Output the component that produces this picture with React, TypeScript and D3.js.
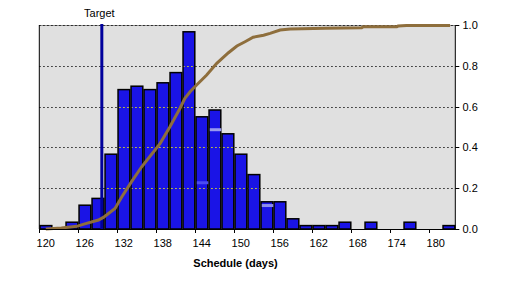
import React from 'react';
import * as d3 from 'd3';

// ---- data ----
const bins = [120, 122, 124, 126, 128, 130, 132, 134, 136, 138, 140, 142, 144, 146, 148, 150,
  152, 154, 156, 158, 160, 162, 164, 166, 168, 170, 172, 174, 176, 178, 180, 182];
const counts = [1, 0, 2, 7, 9, 22, 41, 42, 41, 43, 46, 58, 33, 35, 28, 22,
  16, 8, 8, 3, 1, 1, 1, 2, 0, 2, 0, 0, 2, 0, 0, 1];
const ghostBins = [144, 146, 154];
const ghostCounts = [13.6, 29.2, 6.9];
const cdfDays = [120, 122.4, 124.75, 126.0, 128.1, 128.85, 129.4, 130.65, 131.7, 133.2, 134.75,
  136.8, 137.6, 139.1, 140.65, 141.4, 142.2, 143.2, 144.75, 146.3, 148.1, 149.4, 150.65, 151.9,
  153.5, 154.5, 156.05, 157.6, 163.0, 168.6, 168.85, 174.0, 174.2, 175.5, 182.2];
const cdfProb = [0.0, 0.005, 0.013, 0.025, 0.044, 0.057, 0.07, 0.101, 0.158, 0.232, 0.305,
  0.387, 0.42, 0.501, 0.592, 0.641, 0.673, 0.706, 0.755, 0.812, 0.864, 0.897, 0.918, 0.94,
  0.95, 0.959, 0.975, 0.98, 0.984, 0.987, 0.992, 0.992, 0.995, 0.997, 0.997];
const targetDay = 128.85;
const targetLabel = 'Target';
const xTickLabels = ['120', '126', '132', '138', '144', '150', '156', '162', '168', '174', '180'];
const yTicks = [0, 0.2, 0.4, 0.6, 0.8, 1.0];
const xTitle = 'Schedule (days)';

// ---- layout / style ----
const W = 521, H = 293;
const L = 39.3, R = 455.3, T = 25, B = 229;
const FONT = '"Liberation Sans", Arial, sans-serif';
const GHOST_COLORS = ['#4C4CF0', '#9A9AEE', '#8C8CEC'];

export default function App() {
  const x = d3.scaleBand<number>().domain(bins).range([L, R]).padding(0);
  const bw = x.bandwidth();
  const xd = d3.scaleLinear().domain([119, 183]).range([L, R]);
  const yR = d3.scaleLinear().domain([0, 1]).range([B, T]);
  const yC = d3.scaleLinear().domain([0, 60]).range([B, T]);
  const fmt = d3.format('.1f');

  const line = d3.line<number>()
    .x((_, i) => xd(cdfDays[i]))
    .y((_, i) => yR(cdfProb[i]));
  const linePath = line(cdfProb) || '';

  const barData = bins.map((b, i) => ({ b, c: counts[i] })).filter(d => d.c > 0);
  const tickBoundaries = bins.filter((_, i) => i % 3 === 0);

  return (
    <svg width={W} height={H} style={{ position: 'absolute', left: 0, top: 0, background: '#fff' }}
      fontFamily={FONT}>
      <defs>
        <clipPath id="barsClip">
          {barData.map(d => (
            <rect key={d.b} x={(x(d.b) as number) + 1.5} width={bw - 2.5}
              y={yC(d.c) + 1} height={B - yC(d.c) - 1} />
          ))}
        </clipPath>
      </defs>
      {/* plot background */}
      <rect x={L} y={T} width={R - L} height={B - T} fill="#E0E0E0" />
      {/* top border (grey) */}
      <line x1={L} x2={R} y1={T + 0.5} y2={T + 0.5} stroke="#8C8C8C" strokeWidth={1} />
      {/* gridlines */}
      {yTicks.filter(v => v > 0).map(v => (
        <line key={v} x1={L} x2={R} y1={Math.round(yR(v)) + 0.5} y2={Math.round(yR(v)) + 0.5}
          stroke="#000" strokeWidth={1} strokeDasharray="1.3,2.7" />
      ))}
      {/* bars */}
      {barData.map(d => (
        <rect key={d.b} x={(x(d.b) as number) + 0.75} width={bw - 1.25}
          y={yC(d.c)} height={B - yC(d.c)}
          fill="#1A14E6" stroke="#000" strokeWidth={1.5} />
      ))}
      {/* ghost marks */}
      {ghostBins.map((b, i) => (
        <rect key={b} x={(x(b) as number) + 1.5} width={bw - 1.5}
          y={yC(ghostCounts[i]) - 1.5} height={3} fill={GHOST_COLORS[i]} />
      ))}
      {/* yellow gridlines over bars */}
      <g clipPath="url(#barsClip)">
        {yTicks.filter(v => v > 0).map(v => (
          <line key={v} x1={L} x2={R} y1={Math.round(yR(v)) + 0.5} y2={Math.round(yR(v)) + 0.5}
            stroke="#FFFF00" strokeWidth={1} strokeDasharray="1.3,2.7" />
        ))}
      </g>
      {/* target line */}
      <line x1={xd(targetDay) - 1.5} x2={xd(targetDay) - 1.5} y1={T - 1} y2={B}
        stroke="#00009C" strokeWidth={3} />
      <text x={xd(targetDay) - 4} y={17} textAnchor="middle" fontSize={11} fill="#000">{targetLabel}</text>
      {/* CDF curve */}
      <path d={linePath} fill="none" stroke="#8E6E3C" strokeWidth={3} strokeLinejoin="miter" />
      {/* axes */}
      <line x1={L} x2={L} y1={T} y2={B} stroke="#000" strokeWidth={1} />
      <line x1={L} x2={R + 0.5} y1={B + 0.5} y2={B + 0.5} stroke="#000" strokeWidth={1} />
      <line x1={R} x2={R} y1={T} y2={B + 1} stroke="#000" strokeWidth={1} />
      {/* bottom ticks */}
      {tickBoundaries.map(b => (
        <line key={b} x1={Math.round(x(b) as number) + 0.5} x2={Math.round(x(b) as number) + 0.5}
          y1={B} y2={B + 4} stroke="#000" strokeWidth={1} />
      ))}
      {xTickLabels.map(t => (
        <text key={t} x={(x(Number(t)) as number) + bw / 2} y={247} textAnchor="middle"
          fontSize={11} fill="#000">{t}</text>
      ))}
      {/* right axis */}
      {yTicks.map(v => (
        <g key={v}>
          <line x1={R} x2={R + 4} y1={Math.round(yR(v)) + 0.5} y2={Math.round(yR(v)) + 0.5}
            stroke="#000" strokeWidth={1} />
          <text x={462.5} y={yR(v) + 4} fontSize={11} fill="#000">{fmt(v)}</text>
        </g>
      ))}
      {/* axis title */}
      <text x={235.5} y={267} textAnchor="middle" fontSize={11} fontWeight="bold" fill="#000">{xTitle}</text>
    </svg>
  );
}
